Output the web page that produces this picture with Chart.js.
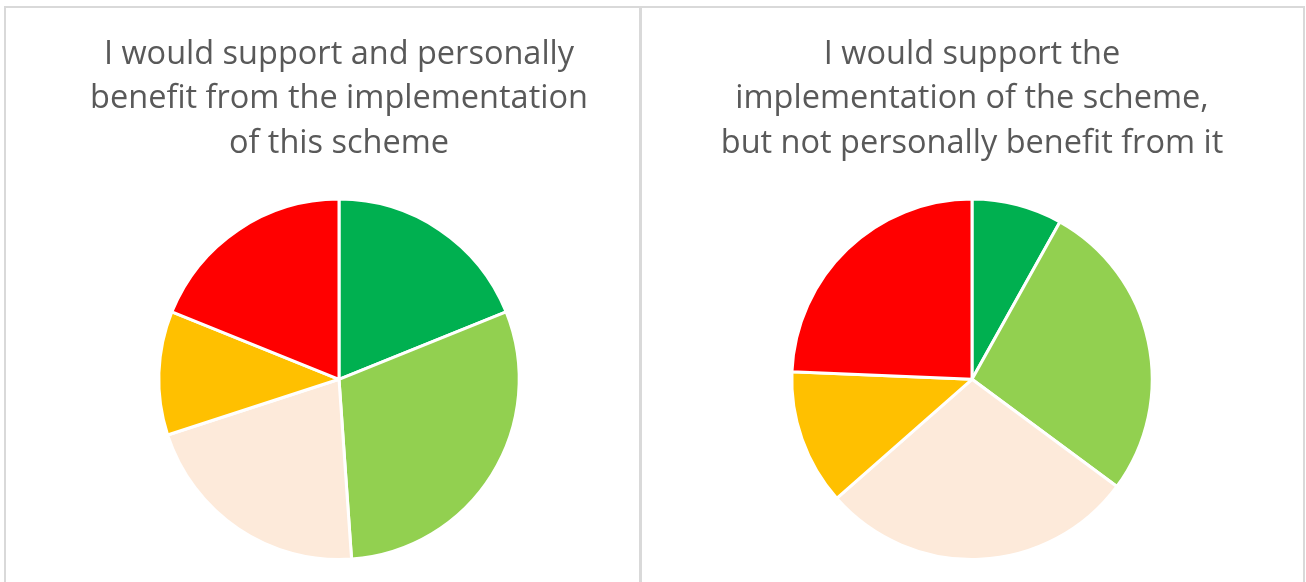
<!DOCTYPE html>
<html>
<head>
<meta charset="utf-8">
<script src="https://cdn.jsdelivr.net/npm/chart.js@4"></script>
<style>
  body { margin: 0; background: #fff; width: 1306px; height: 582px; overflow: hidden; position: relative; }
  .panel { position: absolute; top: 6px; height: 620px; border: 2px solid #d9d9d9; box-sizing: border-box; }
  .box { position: absolute; top: 8px; height: 574px; }
</style>
</head>
<body>
<div class="panel" style="left:4px; width:637px;"></div>
<div class="panel" style="left:640px; width:665px;"></div>
<div class="box" style="left:40px; width:598px;"><canvas id="pieLeft"></canvas></div>
<div class="box" style="left:643px; width:658px;"><canvas id="pieRight"></canvas></div>
<script>
// answer categories (legend not shown in the original)
const categories = ["Strongly agree", "Agree", "Neutral", "Disagree", "Strongly disagree"];
const sliceColors = ["#00B050", "#92D050", "#FDEADA", "#FFC000", "#FF0000"];

// responses
const benefitValues = [17, 27, 19, 10, 17];
const noBenefitValues = [6, 20, 21, 9, 18];

const leftTitle = ["I would support and personally", "benefit from the implementation", "of this scheme"];
const rightTitle = ["I would support the", "implementation of the scheme,", "but not personally benefit from it"];

function makePie(id, values, title) {
  new Chart(document.getElementById(id), {
    type: "pie",
    data: {
      labels: categories,
      datasets: [{
        data: values,
        backgroundColor: sliceColors,
        borderColor: "#ffffff",
        borderWidth: 3
      }]
    },
    options: {
      responsive: true,
      maintainAspectRatio: false,
      animation: false,
      layout: { padding: { bottom: 21 } },
      plugins: {
        legend: { display: false },
        tooltip: { enabled: false },
        title: {
          display: true,
          text: title,
          color: "#595959",
          font: { family: "'Open Sans', sans-serif", size: 32.5, weight: "normal", lineHeight: 1.37 },
          padding: { top: 24, bottom: 32 }
        }
      }
    }
  });
}

makePie("pieLeft", benefitValues, leftTitle);
makePie("pieRight", noBenefitValues, rightTitle);
</script>
</body>
</html>
